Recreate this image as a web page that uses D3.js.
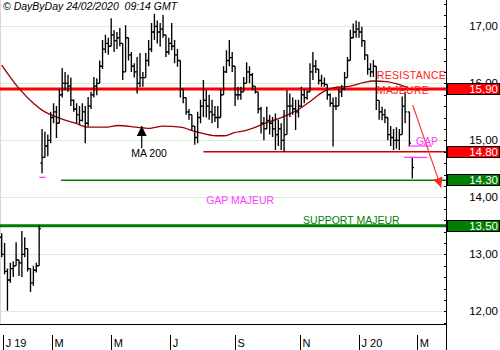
<!DOCTYPE html>
<html><head><meta charset="utf-8">
<script src="https://cdn.jsdelivr.net/npm/d3@7"></script>
<style>
body{margin:0;background:#fff}
svg{display:block}
text{font-family:"Liberation Sans",Arial,sans-serif}
</style>
</head><body>
<svg id="c" width="500" height="350"></svg>
<script>
// ---- data (trading-day index, OHLC) ----
const barT = [0,2,4,6,8,10,12,14,16,18,20,22,24,26,28,30,32,34,36,38,40,42,44,46,48,50,52,54,56,58,60,62,64,66,68,70,72,74,76,78,80,82,84,86,88,90,92,94,96,98,100,102,104,106,108,110,112,114,116,118,120,122,124,126,128,130,132,134,136,138,140,142,144,146,148,150,152,154,156,158,160,162,164,166,168,170,172,174,176,178,180,182,184,186,188,190,192,194,196,198,200,202,204,206,208,210,212,214,216,218,220,222,224,226,228,230,232,234,236,238,240,242,244,246,248,250,252,254,256,258,260,262,264,266,268,270,272,274,276,278,280,283,285];
const opens = [13.3,13.0,12.7,12.55,12.75,12.8,12.9,12.85,13.0,13.1,12.75,12.5,12.72,12.8,14.6,14.7,14.9,15.0,15.4,15.5,15.3,15.8,16.0,16.0,15.95,15.7,15.55,15.45,15.35,15.5,15.3,15.6,15.8,15.95,16.0,16.3,16.6,16.7,16.65,16.85,16.75,16.8,16.7,16.2,16.8,16.5,16.3,16.2,16.0,16.1,16.1,16.4,16.6,16.9,17.0,16.9,16.95,16.85,16.55,16.7,16.65,16.5,16.4,15.9,15.75,15.5,15.45,15.25,15.05,15.4,15.6,15.7,15.6,15.5,15.45,15.4,15.4,15.8,16.2,16.4,16.45,16.3,15.8,15.8,15.85,16.0,16.2,16.15,15.95,15.85,15.55,15.3,15.2,15.35,15.3,15.2,15.1,15.2,15.0,15.1,15.6,15.6,15.55,15.5,15.6,15.8,15.75,15.85,16.2,16.3,16.25,16.05,16.0,15.98,15.8,15.65,15.6,15.6,15.85,15.9,16.1,16.4,16.8,16.9,16.95,16.9,16.75,16.5,16.25,16.2,16.3,15.7,15.5,15.45,15.4,15.1,15.05,15.0,15.0,15.1,15.6,15.5,14.70];
const highs = [13.37,13.2,12.75,12.85,12.88,13.21,12.9,13.41,13.3,13.1,12.75,12.8,12.85,13.51,15.2,15.15,15.1,15.5,15.65,15.6,15.9,16.27,16.2,16.15,16.1,15.72,15.65,15.6,15.65,15.6,15.76,15.85,16.11,16.09,16.4,16.76,16.85,16.8,17.14,16.93,16.9,16.97,16.7,17.02,16.8,16.55,16.35,16.46,16.53,16.2,16.53,16.76,17.06,17.22,17.1,17.06,17.2,16.85,16.8,17.06,16.76,16.6,16.4,15.9,15.75,15.55,15.45,15.25,15.5,15.71,16.06,15.88,15.8,15.71,15.6,15.6,15.9,16.3,16.58,16.76,16.55,16.3,15.94,15.94,16.11,16.37,16.3,16.18,15.95,15.85,15.59,15.41,15.59,15.45,15.41,15.47,15.36,15.3,15.53,15.88,15.82,15.75,15.71,15.71,15.94,15.9,15.88,16.35,16.55,16.41,16.25,16.15,16.1,15.98,15.82,15.75,15.76,15.9,15.97,16.2,16.46,16.94,17.05,17.1,17.08,16.99,16.75,16.5,16.35,16.41,16.3,15.7,15.59,15.55,15.4,15.25,15.2,15.23,15.2,15.77,15.85,15.5,14.70];
const lows = [12.95,12.65,12.01,12.5,12.6,12.8,12.62,12.6,12.95,12.7,12.34,12.45,12.68,12.8,14.42,14.7,14.72,14.95,15.3,15.04,15.3,15.75,15.88,15.85,15.6,15.5,15.3,15.27,15.33,14.95,15.24,15.55,15.75,15.79,16.0,16.25,16.53,16.5,16.65,16.55,16.6,16.65,16.06,16.2,16.4,16.2,16.1,15.82,15.93,15.94,16.1,16.3,16.55,16.76,16.7,16.64,16.8,16.46,16.5,16.58,16.35,16.29,15.75,15.65,15.45,15.36,15.18,14.92,14.95,15.3,15.41,15.4,15.36,15.3,15.32,15.21,15.4,15.8,16.18,16.3,16.2,15.6,15.71,15.71,15.85,16.0,16.0,15.88,15.82,15.47,15.12,15.0,15.2,15.1,15.06,14.83,14.9,14.83,14.8,15.1,15.41,15.45,15.18,15.4,15.59,15.65,15.71,15.85,16.06,16.18,15.98,15.94,15.94,15.71,15.59,14.89,15.53,15.6,15.76,15.88,16.1,16.4,16.79,16.8,16.8,16.64,16.41,16.15,16.11,16.11,15.53,15.36,15.35,15.3,15.0,14.9,14.83,14.85,14.83,15.1,15.3,14.90,14.33];
const closes = [13.0,12.7,12.55,12.75,12.8,12.9,12.85,13.0,13.1,12.75,12.5,12.72,12.8,13.45,14.7,14.9,15.0,15.4,15.5,15.3,15.8,16.0,16.0,15.95,15.7,15.55,15.45,15.35,15.5,15.3,15.6,15.8,15.95,16.0,16.3,16.6,16.7,16.65,16.85,16.75,16.8,16.7,16.2,16.8,16.5,16.3,16.2,16.0,16.1,16.1,16.4,16.6,16.9,17.0,16.9,16.95,16.85,16.55,16.7,16.65,16.5,16.4,15.9,15.75,15.5,15.45,15.25,15.05,15.4,15.6,15.7,15.6,15.5,15.45,15.4,15.4,15.8,16.2,16.4,16.45,16.3,15.8,15.8,15.85,16.0,16.2,16.15,15.95,15.85,15.55,15.3,15.2,15.35,15.3,15.2,15.1,15.2,15.0,15.1,15.6,15.6,15.55,15.5,15.6,15.8,15.75,15.85,16.2,16.3,16.25,16.05,16.0,15.98,15.8,15.65,15.6,15.6,15.85,15.9,16.1,16.4,16.8,16.9,16.95,16.9,16.75,16.5,16.25,16.2,16.3,15.7,15.5,15.45,15.4,15.1,15.05,15.0,15.0,15.1,15.6,15.5,14.95,14.52];

// 200-day moving average (sampled)
const maT  = [0,12,22,28,34,42,51,60,72,81,93,103,112,124,135,149,155,161,169,183,197,206,214,223,230,242,251,258,267,277,282];
const maV  = [16.32,15.91,15.65,15.53,15.45,15.37,15.30,15.23,15.23,15.26,15.23,15.21,15.25,15.23,15.15,15.08,15.08,15.13,15.17,15.30,15.43,15.54,15.68,15.85,15.92,15.95,16.01,16.04,16.03,15.97,15.93];

// axes
const monthT = [1,35,76,117,162,207,248,288.5];
const monthLabels = ["J 19","M","M","J","S","N","J 20","M"];
const priceTicks = [12,13,14,15,16,17];

// levels shown in right-hand boxes
const levelValues = [15.90,14.80,14.30,13.50];
const levelColors = ["#ff0000","#ff0000","#008000","#008000"];

// ---- chart ----
const svg = d3.select("#c");
const W = 500, H = 350, axisX = 446.5, plotBottom = 324.5;
const x = d3.scaleLinear().domain([0,285]).range([1.7,412.3]);
const y = d3.scaleLinear().domain([12,17]).range([311.3,26.3]);

// grid
svg.append("g").selectAll("line").data(priceTicks).join("line")
  .attr("x1",0).attr("x2",axisX).attr("y1",d=>Math.round(y(d))+0.5).attr("y2",d=>Math.round(y(d))+0.5)
  .attr("stroke","#d6f3cf").attr("stroke-width",1);

// left faint frame
svg.append("line").attr("x1",0.5).attr("x2",0.5).attr("y1",0).attr("y2",plotBottom).attr("stroke","#d8d8d8");

// horizontal levels
const hl = svg.append("g");
hl.append("line").attr("x1",0).attr("x2",axisX).attr("y1",y(15.90)).attr("y2",y(15.90)).attr("stroke","#ff0000").attr("stroke-width",3);
hl.append("line").attr("x1",x(140)).attr("x2",axisX).attr("y1",y(14.80)).attr("y2",y(14.80)).attr("stroke","#d40000").attr("stroke-width",1.5);
hl.append("line").attr("x1",x(41.2)).attr("x2",axisX).attr("y1",y(14.30)).attr("y2",y(14.30)).attr("stroke","#008000").attr("stroke-width",1.6);
hl.append("line").attr("x1",0).attr("x2",axisX).attr("y1",y(13.50)).attr("y2",y(13.50)).attr("stroke","#007a00").attr("stroke-width",3);

// MA 200
svg.append("path").datum(maT.map((t,i)=>[t,maV[i]]))
  .attr("d", d3.line().x(d=>x(d[0])).y(d=>y(d[1])).curve(d3.curveMonotoneX))
  .attr("fill","none").attr("stroke","#9a0000").attr("stroke-width",1.3);

// OHLC bars
const bars = barT.map((t,i)=>({t,o:opens[i],h:highs[i],l:lows[i],c:closes[i]}));
svg.append("g").attr("stroke","#000").attr("stroke-width",1.35).attr("fill","none")
  .selectAll("path").data(bars).join("path")
  .attr("d", d=>{
    const cx = x(d.t);
    return `M${cx},${y(d.h)}V${y(d.l)}M${cx-1.7},${y(d.o)}H${cx}M${cx},${y(d.c)}H${cx+1.7}`;
  });

// annotations
const magenta = "#ff40ff";
// gap marks
svg.append("line").attr("x1",x(26.1)).attr("x2",x(30.5)).attr("y1",y(14.35)).attr("y2",y(14.35)).attr("stroke",magenta).attr("stroke-width",1.3);
svg.append("line").attr("x1",x(282)).attr("x2",x(298.7)).attr("y1",y(14.90)).attr("y2",y(14.90)).attr("stroke",magenta).attr("stroke-width",1.3);
svg.append("line").attr("x1",x(279.2)).attr("x2",x(295.2)).attr("y1",y(14.70)).attr("y2",y(14.70)).attr("stroke",magenta).attr("stroke-width",1.3);

// red down arrow
const defs = svg.append("defs");
defs.append("marker").attr("id","ah").attr("viewBox","0 0 10 10").attr("refX",10).attr("refY",5)
  .attr("markerWidth",10).attr("markerHeight",11).attr("markerUnits","userSpaceOnUse").attr("orient","auto")
  .append("path").attr("d","M0,0L10,5L0,10Z").attr("fill","#ff2a2a");
svg.append("line").attr("x1",x(285.3)).attr("y1",y(15.62)).attr("x2",x(305)).attr("y2",y(14.17))
  .attr("stroke","#ff3a3a").attr("stroke-width",1.2).attr("marker-end","url(#ah)");

// MA 200 arrow
defs.append("marker").attr("id","ak").attr("viewBox","0 0 10 10").attr("refX",10).attr("refY",5)
  .attr("markerWidth",10).attr("markerHeight",12).attr("markerUnits","userSpaceOnUse").attr("orient","auto")
  .append("path").attr("d","M0,0L10,5L0,10Z").attr("fill","#000");
svg.append("line").attr("x1",x(97.2)).attr("x2",x(97.2)).attr("y1",y(14.86)).attr("y2",y(15.25))
  .attr("stroke","#000").attr("stroke-width",1.2).attr("marker-end","url(#ak)");

const ann = svg.append("g").attr("font-size",10.5);
ann.append("text").attr("x",x(102.3)).attr("y",y(14.70)).attr("text-anchor","middle").attr("fill","#000").text("MA 200");
ann.append("text").attr("x",x(260.4)).attr("y",y(16.08)).attr("fill","#ff2020").attr("letter-spacing",0.3).text("RESISTANCE");
ann.append("text").attr("x",x(260.4)).attr("y",y(15.82)).attr("fill","#ff2020").attr("letter-spacing",0.3).text("MAJEURE");
ann.append("text").attr("x",x(141.9)).attr("y",y(13.89)).attr("fill",magenta).text("GAP MAJEUR");
ann.append("text").attr("x",x(209.2)).attr("y",y(13.54)).attr("fill","#008000").text("SUPPORT MAJEUR");
ann.append("text").attr("x",x(287.5)).attr("y",y(14.91)).attr("fill",magenta).text("GAP");

// right axis
svg.append("line").attr("x1",axisX).attr("x2",axisX).attr("y1",0).attr("y2",H).attr("stroke","#000");
const minor = d3.range(118,178,2).map(v=>v/10);
svg.append("g").attr("transform",`translate(${axisX},0)`)
  .call(d3.axisLeft(y).tickValues(minor).tickSize(3).tickFormat(""))
  .call(g=>g.select(".domain").remove())
  .call(g=>g.selectAll("line").attr("shape-rendering","crispEdges"));
const fmt = d3.format(".2f");
svg.append("g").selectAll("text").data(priceTicks).join("text")
  .attr("x",498).attr("y",d=>y(d)).attr("dy","0.36em").attr("text-anchor","end")
  .attr("font-size",11.5).attr("fill","#000").text(d=>fmt(d).replace(".",","));

// level boxes
const lb = svg.append("g").selectAll("g").data(levelValues).join("g");
lb.append("rect").attr("x",447.5).attr("width",52).attr("y",d=>y(d)-5.5).attr("height",11)
  .attr("fill",(d,i)=>levelColors[i]).attr("stroke","#000").attr("stroke-width",1).attr("shape-rendering","crispEdges");
lb.append("text").attr("x",498).attr("y",d=>y(d)).attr("dy","0.36em").attr("text-anchor","end")
  .attr("font-size",11.5).attr("fill","#fff").text(d=>fmt(d));

// bottom axis
svg.append("line").attr("x1",0).attr("x2",axisX).attr("y1",plotBottom).attr("y2",plotBottom).attr("stroke","#000");
const bx = svg.append("g").attr("transform","translate(0,335)")
  .call(d3.axisBottom(x).tickValues(monthT).tickSize(15).tickFormat((d,i)=>monthLabels[i]));
bx.select(".domain").remove();
bx.selectAll(".tick line").attr("stroke","#000").attr("shape-rendering","crispEdges");
bx.selectAll(".tick text").attr("x",2).attr("y",4).attr("dy","0.71em").attr("text-anchor","start")
  .attr("font-size",11).attr("font-family","Liberation Sans, Arial, sans-serif").attr("fill","#000");

// title
svg.append("text").attr("x",3).attr("y",10).attr("font-size",10.5).attr("font-style","italic")
  .attr("fill","#000").style("white-space","pre").text("© DayByDay 24/02/2020  09:14 GMT");
</script>
</body></html>
